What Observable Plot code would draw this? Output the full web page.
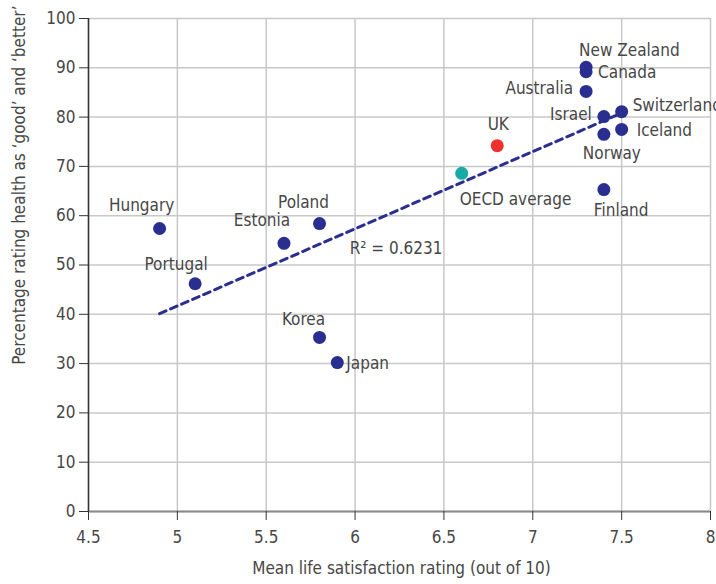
<!DOCTYPE html>
<html><head><meta charset="utf-8">
<script src="https://cdn.jsdelivr.net/npm/d3@7"></script>
<script src="https://cdn.jsdelivr.net/npm/@observablehq/plot@0.6"></script>
<style>
body{margin:0;background:#fff}
#chart svg{font-family:"DejaVu Sans Condensed","Liberation Sans Narrow",sans-serif}
</style>
</head><body><div id="chart"></div>
<script>
const countries = ["New Zealand","Canada","Australia","Switzerland","Israel","Iceland","Norway","UK","OECD average","Finland","Poland","Hungary","Estonia","Portugal","Korea","Japan"];
const lifeSatisfaction = [7.3,7.3,7.3,7.5,7.4,7.5,7.4,6.8,6.6,7.4,5.8,4.9,5.6,5.1,5.8,5.9];
const healthGood = [90.1,89.2,85.2,81.1,80.1,77.5,76.5,74.2,68.6,65.3,58.4,57.4,54.4,46.2,35.3,30.2];
const groups = ["oecd","oecd","oecd","oecd","oecd","oecd","oecd","uk","avg","oecd","oecd","oecd","oecd","oecd","oecd","oecd"];
const xTicks = [4.5,5,5.5,6,6.5,7,7.5,8];
const yTicks = [0,10,20,30,40,50,60,70,80,90,100];
const xLabel = "Mean life satisfaction rating (out of 10)";
const yLabel = "Percentage rating health as ‘good’ and ‘better’";
const rSquaredLabel = "R² = 0.6231";
const rSquaredAt = {x: 5.97, y: 53.3};

const data = countries.map((c,i)=>({country:c, x:lifeSatisfaction[i], y:healthGood[i], group:groups[i]}));

// label placement (pixel offsets)
const labelStyle = {
  "New Zealand":{dx:-7,dy:-17,anchor:"start"},
  "Canada":{dx:12,dy:1,anchor:"start"},
  "Australia":{dx:-13,dy:-3,anchor:"end"},
  "Switzerland":{dx:11,dy:-6,anchor:"start"},
  "Israel":{dx:-12,dy:-2,anchor:"end"},
  "Iceland":{dx:15,dy:1,anchor:"start"},
  "Norway":{dx:-21,dy:19,anchor:"start"},
  "UK":{dx:1,dy:-21,anchor:"middle"},
  "OECD average":{dx:-2,dy:26,anchor:"start"},
  "Finland":{dx:-10,dy:21,anchor:"start"},
  "Poland":{dx:-16,dy:-21,anchor:"middle"},
  "Hungary":{dx:-18,dy:-23,anchor:"middle"},
  "Estonia":{dx:-22,dy:-23,anchor:"middle"},
  "Portugal":{dx:-19,dy:-19,anchor:"middle"},
  "Korea":{dx:-16,dy:-18,anchor:"middle"},
  "Japan":{dx:9,dy:1,anchor:"start"}
};
const colors = {oecd:"#2a2f8f", uk:"#ee3030", avg:"#17aaa6"};
const textColor = "#474747";
const fs = 17;

const labelMarks = data.map(d => {
  const s = labelStyle[d.country];
  return Plot.text([d], {x:"x", y:"y", text:"country", dx:s.dx, dy:s.dy, textAnchor:s.anchor, fill:textColor, fontSize:fs});
});

const chart = Plot.plot({
  width:716, height:584,
  marginLeft:88, marginRight:6, marginTop:18, marginBottom:73,
  style:{fontSize:fs+"px", color:textColor, background:"#fff"},
  x:{domain:[4.5,8]},
  y:{domain:[0,100]},
  marks:[
    Plot.gridX(xTicks, {stroke:"#c8c8c8", strokeOpacity:1, strokeWidth:1.5}),
    Plot.gridY(yTicks, {stroke:"#c8c8c8", strokeOpacity:1, strokeWidth:1.5}),
    Plot.ruleY([0], {stroke:"#8a8a8a", strokeWidth:2}),
    Plot.ruleX([4.5], {stroke:"#333", strokeWidth:1.5}),
    Plot.axisX({ticks:xTicks, tickFormat:d=>String(d), tickSize:9, tickPadding:10, stroke:"#333", fill:textColor, fontSize:fs, label:null}),
    Plot.axisY({ticks:yTicks, tickSize:9, tickPadding:4, stroke:"#333", fill:textColor, fontSize:fs, label:null}),
    Plot.text([xLabel], {frameAnchor:"bottom", dy:62, dx:2, fill:textColor, fontSize:fs}),
    Plot.text([yLabel], {frameAnchor:"top-left", rotate:-90, textAnchor:"end", dx:-76, dy:-13, fill:textColor, fontSize:fs}),
    Plot.linearRegressionY(data.filter(d=>d.group!=="avg"), {x:"x", y:"y", ci:0, stroke:colors.oecd, strokeWidth:3, strokeDasharray:"7,5"}),
    Plot.dot(data, {x:"x", y:"y", r:6.5, fill:d=>colors[d.group]}),
    ...labelMarks,
    Plot.text([rSquaredAt], {x:"x", y:"y", text:()=>rSquaredLabel, textAnchor:"start", fill:textColor, fontSize:fs})
  ]
});
document.getElementById("chart").append(chart);
</script>
</body></html>
